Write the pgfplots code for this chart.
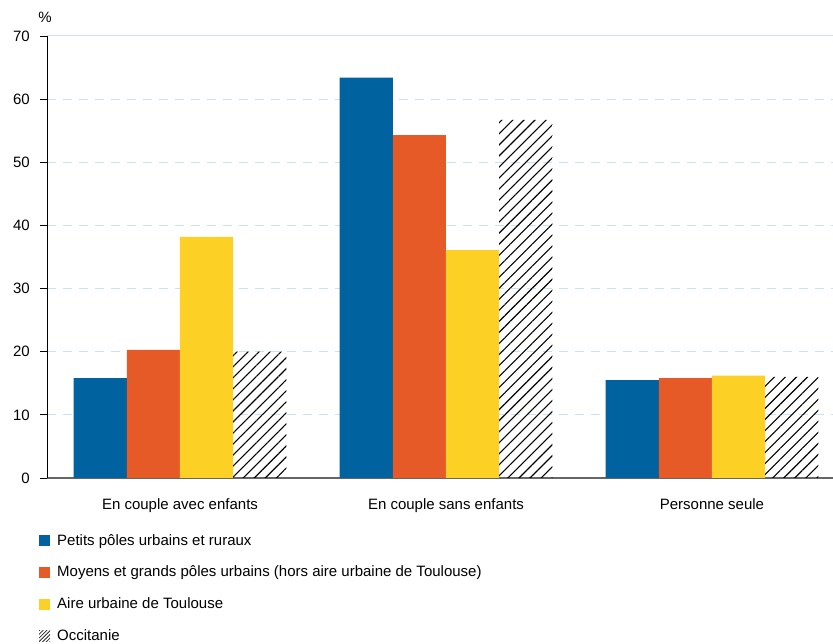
\documentclass[border=0pt]{standalone}
\usepackage{pgfplots}
\pgfplotsset{compat=1.18}
\usepackage{fontspec}
\setmainfont{Liberation Sans}
\usetikzlibrary{patterns.meta}
\definecolor{cblue}{RGB}{0,98,158}
\definecolor{corange}{RGB}{230,90,40}
\definecolor{cyellow}{RGB}{252,208,36}
\definecolor{cgrid}{RGB}{200,225,243}
\pgfplotsset{sqlegend/.style={legend image code/.code={\fill[##1] (0pt,-5.5pt) rectangle (11pt,5.5pt);}},
  hatchlegend/.style={legend image code/.code={\fill[pattern={Lines[angle=45, distance=2.6pt, line width=0.8pt]}, pattern color=black!85] (0pt,-5.5pt) rectangle (11pt,5.5pt);}}}
\begin{document}
\fontsize{15}{18}\selectfont
\begin{tikzpicture}
\useasboundingbox (0,0) rectangle (833pt,644pt);
\begin{axis}[at={(47pt,166pt)}, anchor=south west, scale only axis,
  width=786pt, height=442pt,
  ybar=0pt, bar width=0.2,
  xmin=-0.5, xmax=2.455, ymin=0, ymax=70,
  xtick={0,1,2},
  xticklabels={En couple avec enfants, En couple sans enfants, Personne seule},
  ytick={0,10,20,30,40,50,60},
  extra y ticks={70},
  extra y tick style={major grid style={solid, cgrid, line width=1pt}},
  ymajorgrids,
  major grid style={cgrid, line width=1pt, dash pattern=on 9pt off 7pt},
  axis x line*=bottom, axis y line*=left,
  x axis line style={draw=black!60, line width=1.4pt},
  y axis line style={draw=black, line width=0.9pt},
  x tick style={draw=none},
  y tick style={draw=black, line width=0.9pt},
  major tick length=7pt, tick align=outside,
  tick label style={font=\fontsize{15}{18}\selectfont},
  /pgf/number format/assume math mode=true,
  xticklabel style={yshift=-8pt},
  yticklabel style={xshift=-5pt},
  ylabel={\%},
  ylabel style={rotate=-90, at={(axis description cs:0,1)}, anchor=south, inner sep=0pt, yshift=13pt, xshift=-2pt, font=\fontsize{15}{18}\selectfont},
  legend style={at={(axis description cs:0,0)}, anchor=north west, xshift=-8pt, yshift=-54pt,
    draw=none, fill=none, font=\fontsize{15}{18}\selectfont, row sep=14.6pt, column sep=5pt, inner sep=0pt},
  legend cell align=left,
]
\addplot[sqlegend, fill=cblue, draw=none] coordinates {(0,15.8) (1,63.4) (2,15.5)};
\addplot[sqlegend, fill=corange, draw=none] coordinates {(0,20.3) (1,54.3) (2,15.8)};
\addplot[sqlegend, fill=cyellow, draw=none] coordinates {(0,38.2) (1,36.1) (2,16.2)};
\addplot[hatchlegend, draw=none, pattern={Lines[angle=45, distance=7.8pt, line width=1.1pt]}, pattern color=black] coordinates {(0,20.0) (1,56.7) (2,16.0)};
\legend{Petits pôles urbains et ruraux, Moyens et grands pôles urbains (hors aire urbaine de Toulouse), Aire urbaine de Toulouse, Occitanie}
\end{axis}
\end{tikzpicture}
\end{document}
